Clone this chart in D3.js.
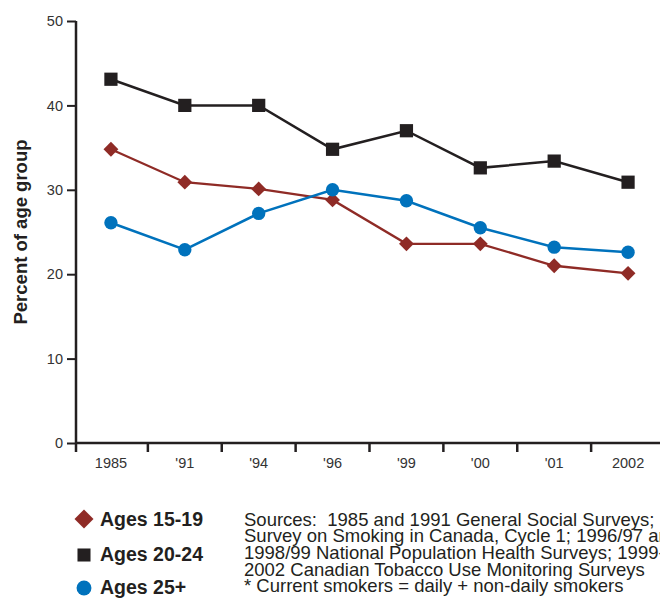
<!DOCTYPE html>
<html><head><meta charset="utf-8">
<script src="https://cdn.jsdelivr.net/npm/d3@7"></script>
<style>body{margin:0;background:#fff;overflow:hidden}svg{display:block}</style>
</head><body>
<svg id="chart" width="660" height="599"></svg>
<script>
const years = ["1985","'91","'94","'96","'99","'00","'01","2002"];
const ages1519 = [34.8, 30.9, 30.1, 28.8, 23.6, 23.6, 21.0, 20.1];
const ages2024 = [43.1, 40.0, 40.0, 34.8, 37.0, 32.6, 33.4, 30.9];
const ages25 = [26.1, 22.9, 27.2, 30.0, 28.7, 25.5, 23.2, 22.6];
const yTicks = [0, 10, 20, 30, 40, 50];
const seriesNames = ["Ages 15-19", "Ages 20-24", "Ages 25+"];
const sourceLines = [
  "Sources:  1985 and 1991 General Social Surveys; 1994/95",
  "Survey on Smoking in Canada, Cycle 1; 1996/97 and",
  "1998/99 National Population Health Surveys; 1999-",
  "2002 Canadian Tobacco Use Monitoring Surveys",
  "* Current smokers = daily + non-daily smokers"
];

const svg = d3.select("#chart");
const x = d3.scaleBand().domain(years).range([74, 665]);
const y = d3.scaleLinear().domain([0, 50]).range([443, 21]);
const axisColor = "#231f20";
const font = "Liberation Sans, Arial, sans-serif";

// y axis
const gy = svg.append("g").attr("transform", "translate(76,0)")
  .call(d3.axisLeft(y).tickValues(yTicks).tickSize(9).tickPadding(4));
gy.select(".domain").remove();
gy.selectAll(".tick line").attr("stroke", axisColor).attr("stroke-width", 2);
gy.selectAll(".tick text").attr("font-family", font)
  .attr("font-size", 14.5).attr("fill", "#333");
svg.append("line").attr("x1", 76).attr("x2", 76).attr("y1", y(50)).attr("y2", 452)
  .attr("stroke", axisColor).attr("stroke-width", 2.5);

// x axis
svg.append("line").attr("x1", 76).attr("x2", 660).attr("y1", y(0)).attr("y2", y(0))
  .attr("stroke", axisColor).attr("stroke-width", 2.5);
const gx = svg.append("g").attr("transform", `translate(0,${y(0)})`)
  .call(d3.axisBottom(x).tickSize(0).tickPadding(15));
gx.select(".domain").remove();
gx.selectAll(".tick text").attr("font-family", font)
  .attr("font-size", 14.5).attr("fill", "#333");
svg.append("g").selectAll("line").data(years.slice(1)).join("line")
  .attr("x1", d => x(d)).attr("x2", d => x(d))
  .attr("y1", y(0)).attr("y2", y(0) + 9)
  .attr("stroke", axisColor).attr("stroke-width", 2.5);

// y label
svg.append("text").attr("transform", "translate(27,232) rotate(-90)")
  .attr("text-anchor", "middle").attr("font-family", font)
  .attr("font-weight", "bold").attr("font-size", 18.5).attr("fill", "#231f20")
  .text("Percent of age group");

const diamond = {draw(ctx, size) { const s = Math.sqrt(size) / 2 * Math.SQRT2;
  ctx.moveTo(0, -s); ctx.lineTo(s, 0); ctx.lineTo(0, s); ctx.lineTo(-s, 0); ctx.closePath(); }};

const series = [
  {name: seriesNames[0], values: ages1519, color: "#8f2b26", shape: diamond, size: 110, lsize: 180, sw: 2.3},
  {name: seriesNames[1], values: ages2024, color: "#231f20", shape: d3.symbolSquare, size: 175, lsize: 170, sw: 2.5},
  {name: seriesNames[2], values: ages25, color: "#0072bc", shape: d3.symbolCircle, size: 140, lsize: 175, sw: 2.5}
];
const cx = d => x(d) + x.bandwidth() / 2;
const line = d3.line().x(d => cx(d.year)).y(d => y(d.v));

series.forEach(s => {
  const pts = years.map((yr, i) => ({year: yr, v: s.values[i]}));
  svg.append("path").datum(pts).attr("d", line).attr("fill", "none")
    .attr("stroke", s.color).attr("stroke-width", s.sw);
  svg.append("g").selectAll("path").data(pts).join("path")
    .attr("transform", d => `translate(${cx(d.year)},${y(d.v)})`)
    .attr("d", d3.symbol().type(s.shape).size(s.size)).attr("fill", s.color);
});

// legend
const legY = [519, 555, 588];
const legBase = [526, 561, 594];
series.forEach((s, i) => {
  svg.append("path").attr("transform", `translate(84,${legY[i]})`)
    .attr("d", d3.symbol().type(s.shape).size(s.lsize)).attr("fill", s.color);
  svg.append("text").attr("x", 100).attr("y", legBase[i])
    .attr("font-family", font).attr("font-weight", "bold")
    .attr("font-size", 19.5).attr("fill", "#231f20").text(s.name);
});

// sources
svg.append("g").selectAll("text").data(sourceLines).join("text")
  .attr("x", 244).attr("y", (d, i) => 525.7 + i * 16.6)
  .attr("font-family", font).style("white-space", "pre")
  .attr("font-size", 18.5).attr("fill", "#231f20").text(d => d);
</script>
</body></html>
